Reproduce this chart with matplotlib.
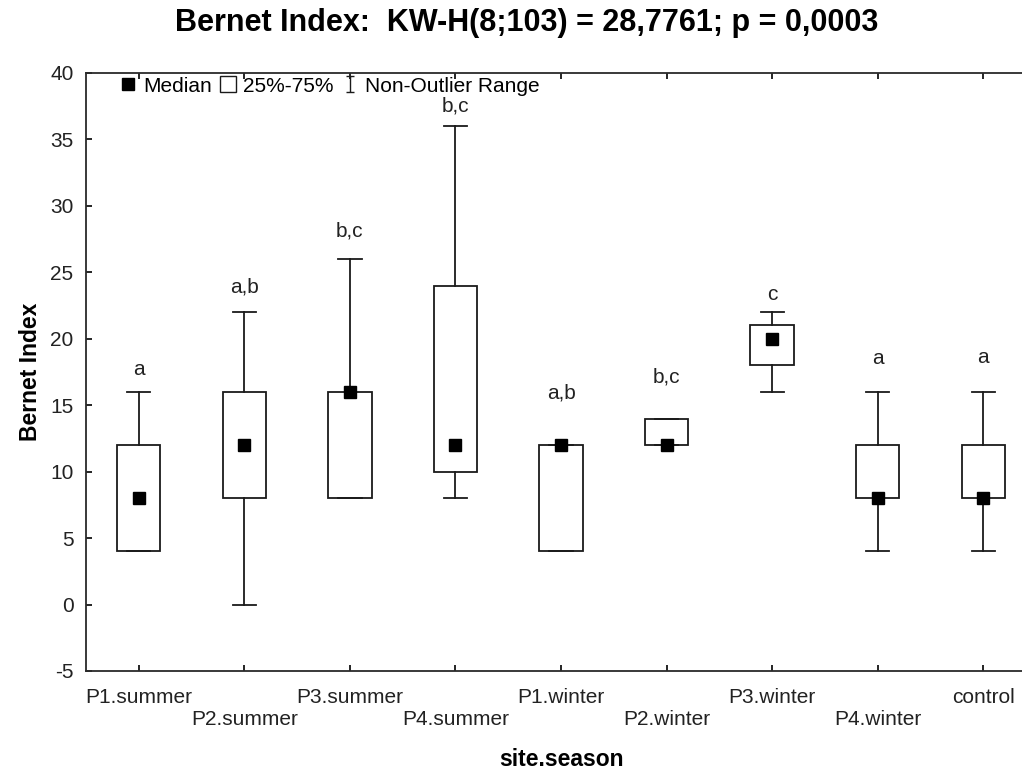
import matplotlib
matplotlib.use("Agg")
import matplotlib.pyplot as plt
from matplotlib.lines import Line2D
from matplotlib.path import Path

plt.rcParams['font.family'] = ['Liberation Sans', 'DejaVu Sans']
plt.rcParams['axes.unicode_minus'] = False

## Data
groups = ['P1.summer', 'P2.summer', 'P3.summer', 'P4.summer', 'P1.winter',
          'P2.winter', 'P3.winter', 'P4.winter', 'control']
medians = [8, 12, 16, 12, 12, 12, 20, 8, 8]
q1 = [4, 8, 8, 10, 4, 12, 18, 8, 8]
q3 = [12, 16, 16, 24, 12, 14, 21, 12, 12]
whisk_lo = [4, 0, 8, 8, 4, 12, 16, 4, 4]
whisk_hi = [16, 22, 26, 36, 12, 14, 22, 16, 16]
letters = ['a', 'a,b', 'b,c', 'b,c', 'a,b', 'b,c', 'c', 'a', 'a']
letter_y = [17.7, 23.9, 28.1, 37.5, 15.9, 17.1, 23.3, 18.5, 18.6]

positions = list(range(1, len(groups) + 1))

fig = plt.figure(figsize=(10.22, 7.71), dpi=100)
ax = fig.add_axes([86 / 1022, 1 - 671 / 771, 950 / 1022, 598 / 771])

stats = []
for i in range(len(groups)):
    stats.append(dict(med=medians[i], q1=q1[i], q3=q3[i],
                      whislo=whisk_lo[i], whishi=whisk_hi[i], label=groups[i]))

lw = 1.3
col = '#1a1a1a'
ax.bxp(stats, positions=positions, widths=0.41, capwidths=0.22,
       showfliers=False, patch_artist=True,
       boxprops=dict(facecolor='white', edgecolor=col, linewidth=lw),
       whiskerprops=dict(color=col, linewidth=lw),
       capprops=dict(color=col, linewidth=lw),
       medianprops=dict(linewidth=0))
ax.plot(positions, medians, 's', color='black', markersize=8, zorder=5)

fs = 15
for p, t, y in zip(positions, letters, letter_y):
    ax.text(p, y, t, ha='center', va='center', fontsize=fs, color='#222222')

ax.set_xlim(0.5, 9.5)
ax.set_ylim(-5, 40)
ax.set_yticks(range(-5, 41, 5))
ax.set_xticks(positions)
ax.set_xticklabels([g if i % 2 == 0 else '\n' + g for i, g in enumerate(groups)])
ax.tick_params(direction='in', length=4, width=1.2, top=True, right=True,
               labelsize=fs, labelcolor='#222222')
ax.tick_params(axis='y', pad=9)
ax.tick_params(axis='x', pad=12)
for s in ax.spines.values():
    s.set_linewidth(1.3)
    s.set_color('#2a2a2a')

ax.set_xlabel('site.season', fontsize=16.5, fontweight='bold', labelpad=14)
ax.set_ylabel('Bernet Index', fontsize=16.5, fontweight='bold', labelpad=6)
fig.text(527 / 1022, 1 - 23 / 771, 'Bernet Index:  KW-H(8;103) = 28,7761; p = 0,0003',
         ha='center', va='center', fontsize=22, fontweight='bold')

# legend
ibeam = Path([(-0.5, 1), (0.5, 1), (0, 1), (0, -1), (-0.5, -1), (0.5, -1)],
             [Path.MOVETO, Path.LINETO, Path.MOVETO, Path.LINETO, Path.MOVETO, Path.LINETO])
handles = [
    Line2D([], [], ls='none', marker='s', color='black', markersize=8),
    Line2D([], [], ls='none', marker='s', markerfacecolor='white',
           markeredgecolor=col, markersize=11, markeredgewidth=1),
    Line2D([], [], ls='none', marker=ibeam, color=col, markersize=12, markeredgewidth=1),
]
ax.legend(handles, ['Median', '25%-75%', 'Non-Outlier Range'], loc='upper left',
          bbox_to_anchor=(0.028, 1.008), ncol=3, frameon=False, fontsize=fs,
          handlelength=0.7, handletextpad=0.35, columnspacing=0.45, borderaxespad=0)

fig.savefig('out.png', dpi=100)
